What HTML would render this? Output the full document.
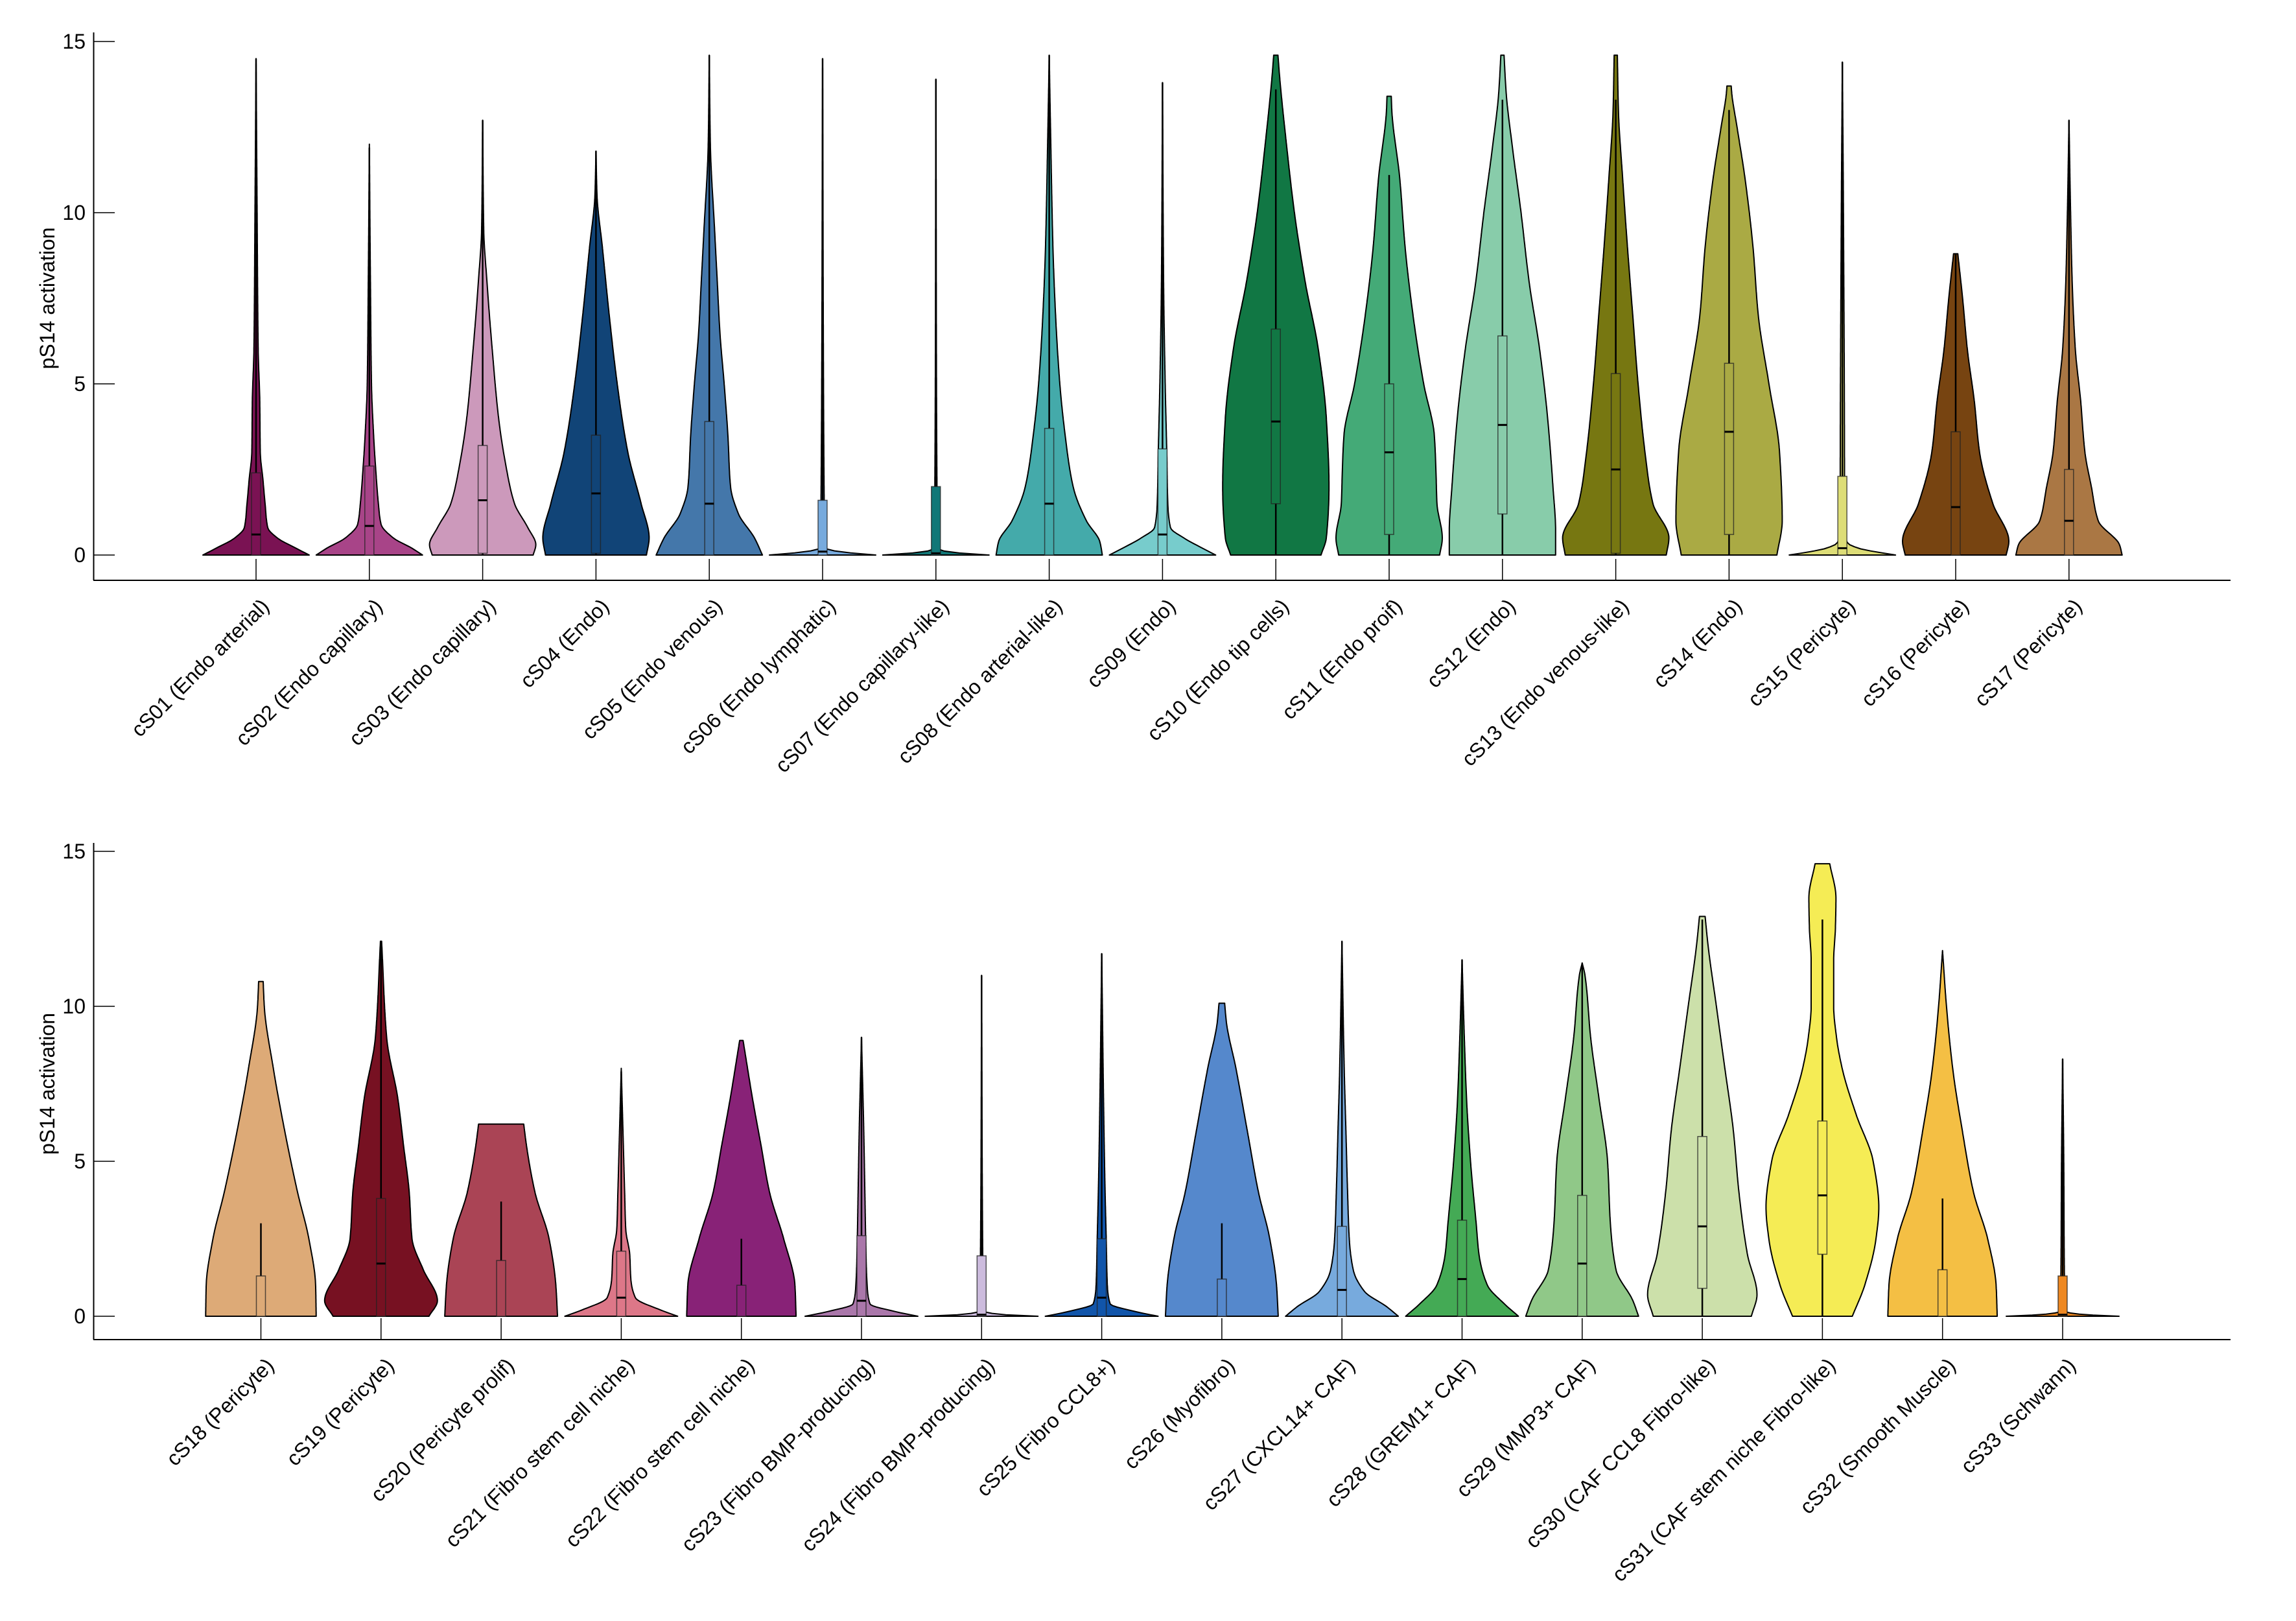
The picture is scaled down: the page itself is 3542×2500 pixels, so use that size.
<!DOCTYPE html>
<html><head><meta charset="utf-8">
<style>html,body{margin:0;padding:0;background:#fff;}svg{display:block;}</style>
</head><body>
<svg id="s" xmlns="http://www.w3.org/2000/svg" width="3542" height="2500" viewBox="0 0 3542 2500" font-family="'Liberation Sans', sans-serif">
<rect width="3542" height="2500" fill="#fff"/>
<g id="g"></g>
</svg>
<script>
const NS="http://www.w3.org/2000/svg";
const G=document.getElementById('g');
function el(t,a,txt){const e=document.createElementNS(NS,t);for(const k in a)e.setAttribute(k,a[k]);if(txt!==undefined)e.textContent=txt;G.appendChild(e);return e;}
const panels=[
 {y0:856,s:52.8,axB:895,axT:50,x0:395,dx:174.8,H:82,
  v:[
  ["cS01 (Endo arterial)","#7a1253",[[0,1],[0.2,0.75],[0.5,0.4],[0.8,0.22],[1.5,0.17],[2.2,0.13],[3,0.08],[4.5,0.07],[6,0.04],[10,0.02],[14.5,0]],[0,0.6,2.4],14.5],
  ["cS02 (Endo capillary)","#a84488",[[0,1],[0.2,0.8],[0.5,0.45],[0.9,0.22],[1.5,0.17],[2.5,0.12],[3.5,0.08],[5,0.04],[8,0.02],[12,0]],[0,0.85,2.6],11.9],
  ["cS03 (Endo capillary)","#cc99bb",[[0,0.95],[0.3,1],[0.8,0.85],[1.5,0.6],[2.5,0.45],[4,0.3],[6,0.18],[8,0.08],[9.5,0.02],[12.7,0]],[0.05,1.6,3.2],12.7],
  ["cS04 (Endo)","#114477",[[0,0.95],[0.5,1],[1.5,0.85],[3,0.6],[5,0.4],[7,0.25],[9,0.12],[10.5,0.02],[11.8,0]],[0.05,1.8,3.5],11.8],
  ["cS05 (Endo venous)","#4477aa",[[0,1],[0.5,0.85],[1.2,0.55],[2,0.4],[3.5,0.35],[5,0.28],[6.5,0.2],[8,0.15],[9.5,0.1],[12,0.02],[14.6,0]],[0,1.5,3.9],14.6],
  ["cS06 (Endo lymphatic)","#77aadd",[[0,1],[0.05,0.6],[0.1,0.3],[0.2,0.05],[1.5,0.03],[14.5,0]],[0,0.1,1.6],14.5],
  ["cS07 (Endo capillary-like)","#117777",[[0,1],[0.05,0.5],[0.1,0.2],[0.2,0.03],[13.9,0]],[0,0.05,2.0],13.9],
  ["cS08 (Endo arterial-like)","#44aaaa",[[0,1],[0.4,0.95],[1,0.7],[2,0.45],[3.5,0.3],[5,0.2],[7,0.12],[9,0.07],[12,0.03],[14.6,0]],[0,1.5,3.7],14.6],
  ["cS09 (Endo)","#77cccc",[[0,1],[0.2,0.75],[0.5,0.4],[0.8,0.15],[1.5,0.1],[3,0.08],[5,0.05],[8,0.02],[13.8,0]],[0,0.6,3.1],13.8],
  ["cS10 (Endo tip cells)","#117744",[[0,0.85],[0.5,0.95],[2,1],[4,0.95],[6,0.8],[8,0.55],[10,0.35],[12,0.2],[14,0.07],[14.6,0.04]],[1.5,3.9,6.6],13.6],
  ["cS11 (Endo proif)","#44aa77",[[0,0.95],[0.5,1],[1.5,0.9],[2.5,0.88],[3.5,0.85],[5,0.65],[7,0.45],[9,0.3],[11,0.2],[13,0.05],[13.4,0.04]],[0.6,3,5],11.1],
  ["cS12 (Endo)","#88ccaa",[[0,1],[0.7,1],[2,0.95],[4,0.85],[6,0.7],[8,0.5],[10,0.35],[12,0.18],[13.5,0.07],[14.6,0.03]],[1.2,3.8,6.4],13.3],
  ["cS13 (Endo venous-like)","#777711",[[0,0.95],[0.5,1],[1.5,0.7],[3,0.55],[5,0.42],[7,0.32],[9,0.22],[11,0.13],[13,0.05],[14.6,0.03]],[0.05,2.5,5.3],13.3],
  ["cS14 (Endo)","#aaaa44",[[0,0.9],[1,1],[3,0.95],[5,0.75],[7,0.55],[9,0.45],[11,0.3],[12.5,0.15],[13.5,0.05],[13.7,0.04]],[0.6,3.6,5.6],13],
  ["cS15 (Pericyte)","#dddd77",[[0,1],[0.1,0.6],[0.2,0.3],[0.35,0.1],[0.6,0.04],[2,0.04],[10,0.02],[14.4,0]],[0,0.2,2.3],14.4],
  ["cS16 (Pericyte)","#774411",[[0,0.95],[0.4,1],[1.5,0.7],[3,0.45],[4.5,0.35],[6,0.22],[7.5,0.13],[8.8,0.04]],[0,1.4,3.6],8.8],
  ["cS17 (Pericyte)","#aa7744",[[0,1],[0.3,0.95],[1,0.55],[2,0.42],[3,0.3],[4.5,0.22],[6,0.12],[8,0.06],[10,0.03],[12.7,0]],[0,1,2.5],12.7]
 ]},
 {y0:2030,s:47.8,axB:2066,axT:1300,x0:402.5,dx:185.3,H:87,
  v:[
  ["cS18 (Pericyte)","#ddaa77",[[0,0.98],[1,0.97],[2.5,0.85],[4,0.65],[6,0.42],[8,0.22],[10,0.06],[10.8,0.04]],[0,0,1.3],3.0],
  ["cS19 (Pericyte)","#771122",[[0,0.85],[0.5,1],[1.5,0.75],[2.5,0.55],[4,0.5],[5.5,0.4],[7,0.3],[9,0.1],[12.1,0.01]],[0,1.7,3.8],12.1],
  ["cS20 (Pericyte prolif)","#aa4455",[[0,1],[1,0.97],[2.5,0.85],[4,0.6],[5.5,0.45],[6.2,0.4]],[0,0,1.8],3.7],
  ["cS21 (Fibro stem cell niche)","#dd7788",[[0,1],[0.2,0.7],[0.6,0.25],[1.2,0.17],[2,0.15],[2.8,0.08],[4,0.06],[6,0.03],[8,0]],[0,0.6,2.1],7.9],
  ["cS22 (Fibro stem cell niche)","#882277",[[0,0.97],[1,0.95],[2.5,0.75],[4,0.5],[5.5,0.35],[7,0.2],[8.9,0.03]],[0,0,1.0],2.5],
  ["cS23 (Fibro BMP-producing)","#aa77aa",[[0,1],[0.15,0.6],[0.4,0.15],[1,0.1],[2,0.08],[4,0.06],[6,0.04],[9,0]],[0,0.5,2.6],9],
  ["cS24 (Fibro BMP-producing)","#ccbbdd",[[0,1],[0.05,0.4],[0.15,0.05],[2,0.02],[11,0]],[0,0.05,1.95],11],
  ["cS25 (Fibro CCL8+)","#1155aa",[[0,1],[0.15,0.6],[0.4,0.15],[1,0.1],[2.5,0.08],[4,0.06],[6,0.04],[11.7,0]],[0,0.6,2.5],11.7],
  ["cS26 (Myofibro)","#5588cc",[[0,1],[1,0.97],[2.5,0.85],[4,0.65],[6,0.45],[8,0.25],[9.5,0.08],[10.1,0.05]],[0,0,1.2],3.0],
  ["cS27 (CXCL14+ CAF)","#77aadd",[[0,1],[0.3,0.8],[0.8,0.4],[1.5,0.2],[2.5,0.13],[4,0.1],[6,0.07],[8,0.04],[12.1,0]],[0,0.85,2.9],12.1],
  ["cS28 (GREM1+ CAF)","#44aa55",[[0,1],[0.4,0.75],[1,0.45],[2,0.3],[3,0.25],[5,0.15],[7,0.08],[9,0.04],[11.5,0]],[0,1.2,3.1],11.5],
  ["cS29 (MMP3+ CAF)","#90c888",[[0,1],[0.5,0.9],[1.5,0.6],[3,0.5],[5,0.45],[7,0.3],[9,0.15],[11,0.05],[11.4,0]],[0,1.7,3.9],11.4],
  ["cS30 (CAF CCL8 Fibro-like)","#cce0aa",[[0,0.87],[0.7,0.97],[2,0.8],[4,0.65],[6,0.55],[8,0.4],[10,0.25],[12,0.1],[12.9,0.05]],[0.9,2.9,5.8],12.8],
  ["cS31 (CAF stem niche Fibro-like)","#f5ec55",[[0,0.53],[1,0.75],[2.5,0.95],[3.5,1],[5,0.9],[6.5,0.6],[8,0.35],[9,0.25],[10,0.2],[11.5,0.2],[12.5,0.23],[13.5,0.24],[14.6,0.13]],[2,3.9,6.3],12.8],
  ["cS32 (Smooth Muscle)","#f4bf44",[[0,0.97],[1,0.95],[2.5,0.8],[4,0.55],[6,0.35],[8,0.18],[10,0.07],[11.8,0]],[0,0,1.5],3.8],
  ["cS33 (Schwann)","#ee8822",[[0,1],[0.05,0.4],[0.15,0.05],[1.5,0.03],[5,0.02],[8.3,0]],[0,0.05,1.3],8.3]
 ]}
];
// monotone cubic (PCHIP) interpolation of width vs value
function pchip(xs,ys){
 const n=xs.length,h=[],d=[],m=new Array(n).fill(0);
 for(let i=0;i<n-1;i++){h[i]=xs[i+1]-xs[i];d[i]=(ys[i+1]-ys[i])/h[i];}
 m[0]=d[0];m[n-1]=d[n-2];
 for(let i=1;i<n-1;i++){
  if(d[i-1]*d[i]<=0)m[i]=0;
  else{const w1=2*h[i]+h[i-1],w2=h[i]+2*h[i-1];m[i]=(w1+w2)/(w1/d[i-1]+w2/d[i]);}
 }
 return x=>{
  let i=0;while(i<n-2&&x>xs[i+1])i++;
  const t=(x-xs[i])/h[i],t2=t*t,t3=t2*t;
  return (2*t3-3*t2+1)*ys[i]+(t3-2*t2+t)*h[i]*m[i]+(-2*t3+3*t2)*ys[i+1]+(t3-t2)*h[i]*m[i+1];
 };
}
panels.forEach(P=>{
 const Y=v=>P.y0-v*P.s;
 el('line',{x1:144.5,y1:P.axT,x2:144.5,y2:P.axB,stroke:'#000','stroke-width':2});
 el('line',{x1:144,y1:P.axB,x2:3441,y2:P.axB,stroke:'#000','stroke-width':2});
 [0,5,10,15].forEach(t=>{
  el('line',{x1:144,y1:Y(t),x2:177,y2:Y(t),stroke:'#000','stroke-width':1.5});
  el('text',{x:132,y:Y(t)+11,'text-anchor':'end','font-size':32},String(t));
 });
 el('text',{transform:`translate(84,${(Y(0)+Y(15))/2}) rotate(-90)`,'text-anchor':'middle','font-size':32},'pS14 activation');
 P.v.forEach((d,i)=>{
  const [name,col,prof,box,wh]=d;
  const xc=P.x0+i*P.dx;
  el('line',{x1:xc,y1:P.axB-33,x2:xc,y2:P.axB,stroke:'#000','stroke-width':1.5});
  el('text',{transform:`translate(${xc+22},${P.axB+42}) rotate(-45)`,'text-anchor':'end','font-size':32},name);
  const xs=prof.map(p=>p[0]),ys=prof.map(p=>p[1]);
  const f=pchip(xs,ys);const vmax=xs[xs.length-1];
  const N=240,R=[],L=[];
  for(let k=0;k<=N;k++){const v=vmax*k/N;const w=Math.max(0,f(v))*P.H;R.push([xc+w,Y(v)]);L.push([xc-w,Y(v)]);}
  let pts=L.slice().reverse().concat(R);
  const path="M"+pts.map(p=>p[0].toFixed(1)+","+p[1].toFixed(1)).join(" L")+" Z";
  el('path',{d:path,fill:col,stroke:'#000','stroke-width':2,'stroke-linejoin':'round'});
  el('line',{x1:xc,y1:Y(0),x2:xc,y2:Y(wh),stroke:'#000','stroke-width':2.5});
  el('rect',{x:xc-7,y:Y(box[2]),width:14,height:Y(box[0])-Y(box[2]),fill:col,stroke:'#222','stroke-width':1.5,'stroke-opacity':0.75});
  if(box[1]>0.02) el('line',{x1:xc-7,y1:Y(box[1]),x2:xc+7,y2:Y(box[1]),stroke:'#000','stroke-width':3});
 });
});
</script>
</body></html>
